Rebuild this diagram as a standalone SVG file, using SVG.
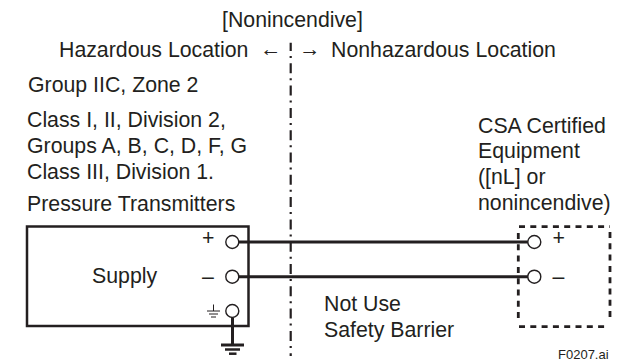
<svg xmlns="http://www.w3.org/2000/svg" width="622" height="362" viewBox="0 0 622 362">
<style>
text{font-family:"Liberation Sans",Arial,sans-serif;font-size:21.3px;fill:#231f20}
.l{fill:none;stroke:#231f20;stroke-width:3}
.t{fill:#fff;stroke:#231f20;stroke-width:1.4}
.g{fill:none;stroke:#231f20}
</style>
<rect width="622" height="362" fill="#fff"/>
<g id="labels">
<text x="222" y="27">[Nonincendive]</text>
<text x="59" y="57">Hazardous Location</text>
<text x="260" y="56">←</text>
<text x="299" y="56">→</text>
<text x="331" y="57">Nonhazardous Location</text>
<text x="28" y="92">Group IIC, Zone 2</text>
<text x="27" y="127">Class I, II, Division 2,</text>
<text x="27" y="153">Groups A, B, C, D, F, G</text>
<text x="27" y="179">Class III, Division 1.</text>
<text x="27" y="211">Pressure Transmitters</text>
<text x="478" y="133">CSA Certified</text>
<text x="478" y="158">Equipment</text>
<text x="478" y="184">([nL] or</text>
<text x="478" y="210">nonincendive)</text>
<text x="324" y="311">Not Use</text>
<text x="324" y="337">Safety Barrier</text>
<text x="558" y="359" style="font-size:13px">F0207.ai</text>
</g>
<g id="divider"><path d="M290.700 42.700V356" fill="none" stroke="#231f20" stroke-width="2.200" stroke-dasharray="10 5 2 5.300" stroke-dashoffset="1.700"/></g>
<g id="supply">
<rect x="27" y="226.500" width="221.500" height="99.500" fill="none" stroke="#231f20" stroke-width="2.500"/>
<text x="92" y="283">Supply</text>
<text x="202" y="245">+</text>
<text x="202" y="283.500">–</text>
<path class="g" d="M213.500 304.500V311M207 311H220M209 314H218M211 317H216"/>
</g>
<g id="connectors">
<path class="l" d="M239 242H528M239 276.700H528M232.500 318V345"/>
<path d="M221 345H244" stroke="#231f20" stroke-width="3"/>
<path d="M225 349.500H240" stroke="#231f20" stroke-width="2.500"/>
<path d="M229 353.700H236.500" stroke="#231f20" stroke-width="2.500"/>
</g>
<g id="terminals">
<circle class="t" cx="232.300" cy="242" r="6.500"/>
<circle class="t" cx="232.300" cy="276.700" r="6.500"/>
<circle class="t" cx="232.300" cy="311" r="6.500"/>
</g>
<g id="equipment">
<path d="M519 226.700H610M610 232V322M519 326.700H608M518.300 233V322" fill="none" stroke="#231f20" stroke-width="2.800" stroke-dasharray="6 5.300"/>
<circle class="t" cx="534.300" cy="242" r="6.500"/>
<circle class="t" cx="534.300" cy="276.700" r="6.500"/>
<text x="552.500" y="245">+</text>
<text x="552.500" y="283.500">–</text>
</g>
</svg>
